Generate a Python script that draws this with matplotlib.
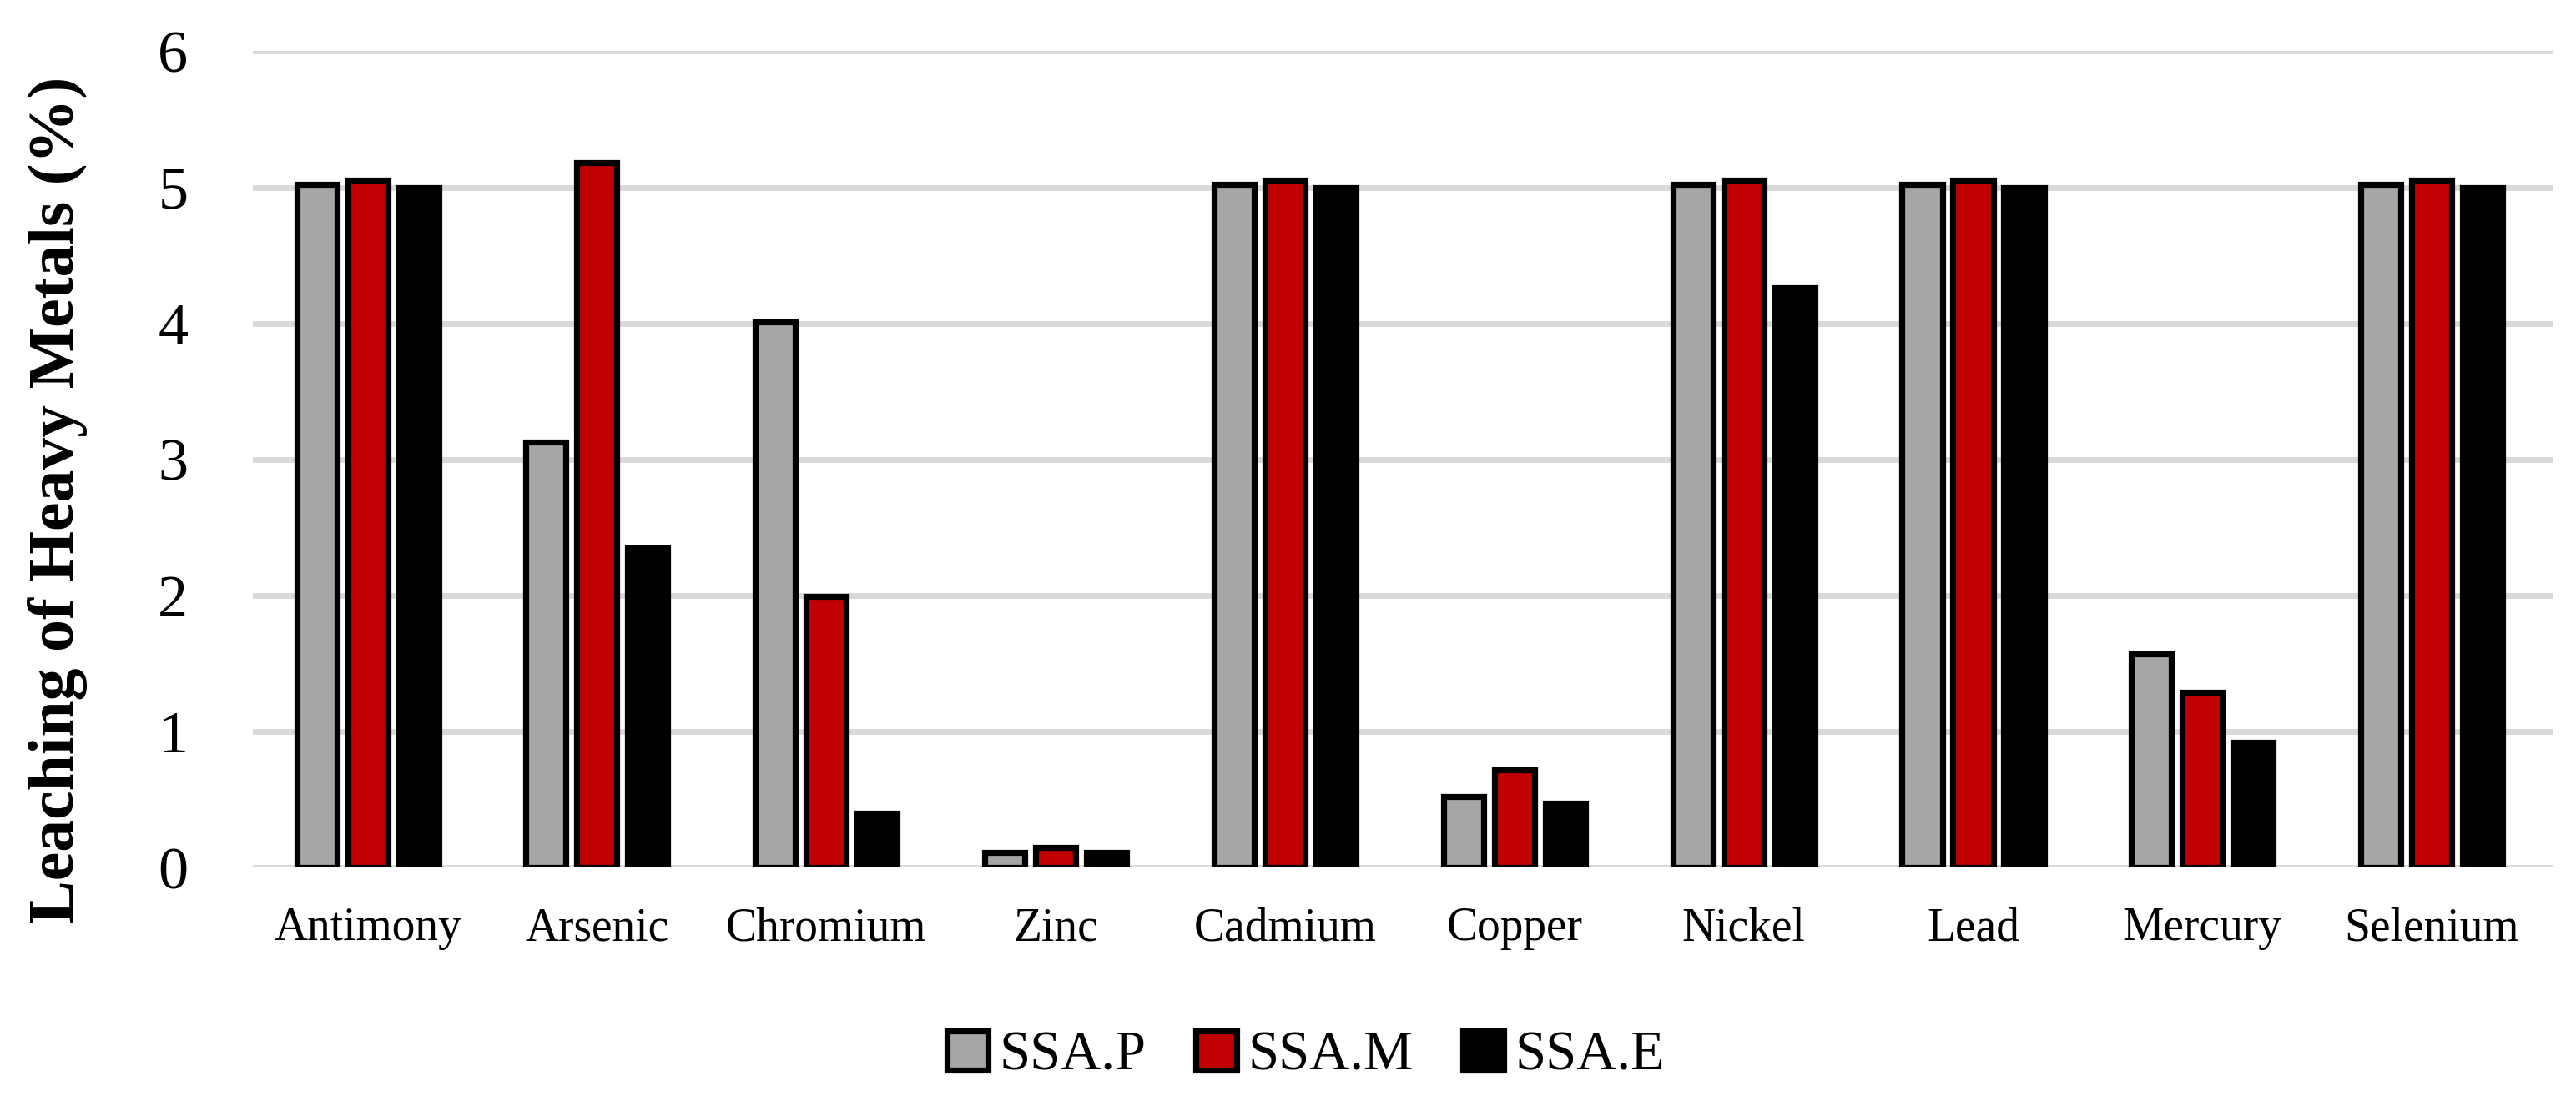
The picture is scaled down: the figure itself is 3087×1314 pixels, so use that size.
import numpy as np
import matplotlib.pyplot as plt

#%% data

metals = ['Antimony', 'Arsenic', 'Chromium', 'Zinc', 'Cadmium',
          'Copper', 'Nickel', 'Lead', 'Mercury', 'Selenium']
ssa_p = [5.02, 3.13, 4.01, 0.11, 5.02, 0.52, 5.02, 5.02, 1.57, 5.02]
ssa_m = [5.05, 5.18, 1.99, 0.15, 5.05, 0.72, 5.05, 5.05, 1.29, 5.05]
ssa_e = [5.00, 2.35, 0.40, 0.11, 5.00, 0.47, 4.26, 5.00, 0.92, 5.00]
series = ['SSA.P', 'SSA.M', 'SSA.E']
colors = ['#a6a6a6', '#c00000', '#000000']

#%% plot

plt.rcParams['font.family'] = ['Liberation Serif', 'DejaVu Serif']

fig = plt.figure(figsize=(15.435, 6.57), dpi=200)
ax = fig.add_axes([0.0982, 0.2085, 0.893, 0.7447])

x = np.arange(len(metals))
pitch = 0.222
width = 0.175

for i, (vals, lab, c) in enumerate(zip([ssa_p, ssa_m, ssa_e], series, colors)):
    ax.bar(x + (i - 1) * pitch, vals, width, color=c, edgecolor='black',
           linewidth=2.6, label=lab, zorder=3)

ax.set_xlim(-0.5, 9.53)
ax.set_ylim(0, 6)
ax.set_yticks(range(7))
ax.set_xticks(x)
ax.set_xticklabels(metals, fontsize=20)
ax.tick_params(axis='y', labelsize=26, length=0, pad=28)
ax.tick_params(axis='x', length=0, pad=17)

ax.grid(axis='y', color='#d9d9d9', linewidth=2.5, zorder=0)
ax.set_axisbelow(True)
for s in ax.spines.values():
    s.set_visible(False)

ax.set_ylabel('Leaching of Heavy Metals (%)', fontsize=28, fontweight='bold')
ax.yaxis.set_label_coords(-0.072, 0.45)

fig.legend(loc='center', bbox_to_anchor=(0.507, 0.0365), ncol=3, frameon=False,
           fontsize=24, handlelength=0.73, handleheight=0.7,
           handletextpad=0.2, columnspacing=0.9)

fig.savefig('out.png', dpi=200)
